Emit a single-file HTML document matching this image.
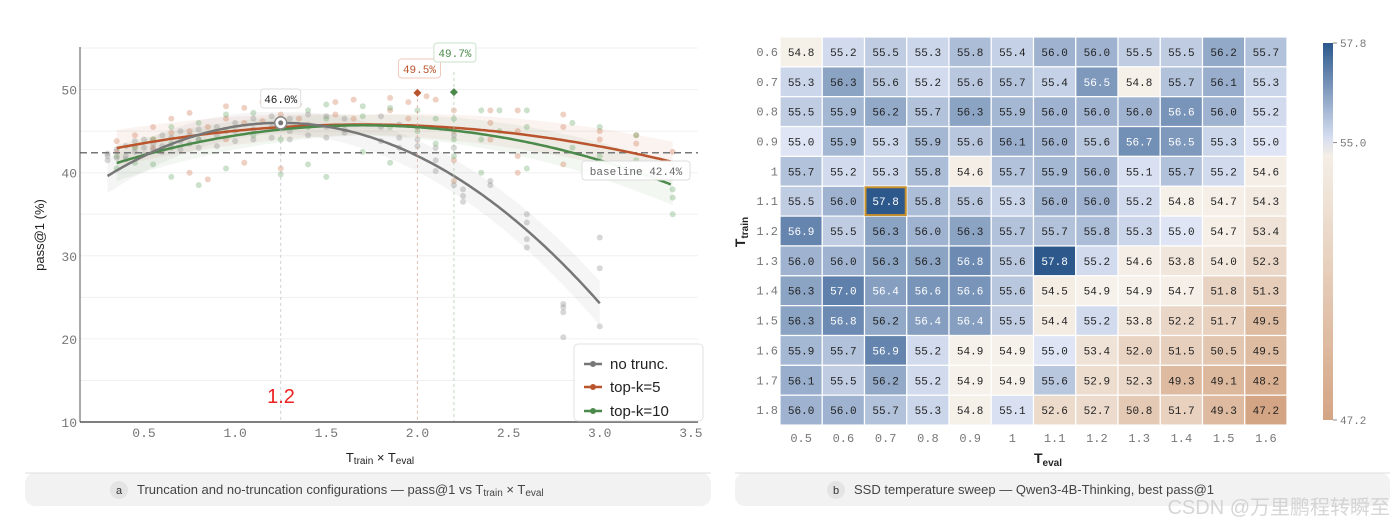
<!DOCTYPE html>
<html><head><meta charset="utf-8"><style>
body{margin:0;background:#fff;width:1396px;height:527px;overflow:hidden;font-family:"Liberation Sans","Noto Sans CJK SC",sans-serif}
svg{position:absolute;left:0;top:0}
</style></head><body>
<svg id="s" width="1396" height="527" xmlns="http://www.w3.org/2000/svg"></svg>
<script>
// ---- Left chart data ----
const xTicks=[0.5,1.0,1.5,2.0,2.5,3.0,3.5];
const yTicks=[10,20,30,40,50];
const baseline=42.4;
const grayFit=[46.0,1.25,7.09,0.3,3.0];   // peak, xpeak, curvature, xmin, xmax
const orangeFit=[45.8,1.7,1.56,0.35,3.4];
const greenFit=[45.7,1.7,2.49,0.35,3.4];
const grayX=[0.3,0.3,0.3,0.35,0.35,0.4,0.4,0.4,0.45,0.45,0.5,0.5,0.5,0.55,0.55,0.6,0.6,0.6,0.65,0.65,0.7,0.7,0.7,0.75,0.75,0.8,0.8,0.8,0.9,0.9,0.9,1.0,1.0,1.0,1.1,1.1,1.1,1.2,1.2,1.2,1.3,1.3,1.3,1.4,1.4,1.4,1.5,1.5,1.5,1.6,1.6,1.6,1.8,1.8,1.8,1.9,1.9,1.9,2.0,2.0,2.0,2.1,2.1,2.1,2.2,2.2,2.2,2.25,2.25,2.25,2.4,2.4,2.6,2.6,2.6,2.6,2.8,2.8,2.8,2.8,3.0,3.0,3.0];
const grayY=[42.3,41.5,42.0,42.8,41.8,43.2,42.0,41.6,43.8,42.5,44.0,43.0,42.2,43.5,42.8,44.5,43.2,42.5,44.2,43.0,45.0,43.8,42.8,44.5,43.5,45.2,44.0,43.0,45.5,44.5,43.2,46.0,45.0,43.8,46.5,45.2,44.0,46.8,45.5,44.2,46.5,45.0,44.0,47.0,45.8,44.5,46.8,45.5,44.2,46.5,45.2,44.8,46.8,45.5,43.8,45.8,44.2,43.0,45.5,44.0,43.2,43.0,41.5,40.2,44.5,43.0,38.5,38.0,37.2,36.5,39.0,38.5,35.0,34.0,32.0,31.0,24.2,23.8,23.2,20.2,32.2,28.5,21.5];
const orangeX=[0.35,0.35,0.45,0.45,0.55,0.55,0.55,0.65,0.65,0.75,0.75,0.75,0.85,0.85,0.95,0.95,0.95,1.05,1.05,1.05,1.15,1.15,1.25,1.25,1.25,1.35,1.35,1.55,1.55,1.65,1.65,1.85,1.85,1.95,1.95,2.05,2.1,2.2,2.2,2.2,2.2,2.4,2.4,2.4,2.55,2.55,2.55,2.55,2.8,2.8,2.8,3.0,3.0,3.2,3.2,3.4,3.4];
const orangeY=[43.8,42.5,44.5,43.2,45.5,44.0,43.0,46.5,44.8,47.2,45.0,40.0,45.5,39.2,48.0,46.5,44.0,47.8,46.0,41.2,48.5,46.2,47.0,45.5,40.5,48.2,46.5,48.5,47.0,48.8,46.5,49.0,47.5,48.5,46.5,49.2,48.8,47.5,45.0,41.5,39.0,47.5,46.0,44.0,47.5,45.0,42.0,40.0,47.0,45.5,41.0,45.0,44.0,44.5,43.5,42.5,41.0];
const greenX=[0.35,0.35,0.45,0.45,0.55,0.55,0.65,0.65,0.65,0.8,0.8,0.8,0.95,0.95,0.95,1.1,1.1,1.25,1.25,1.25,1.4,1.4,1.4,1.5,1.5,1.5,1.7,1.7,1.7,1.85,1.85,1.85,2.0,2.0,2.1,2.1,2.2,2.2,2.2,2.35,2.35,2.35,2.45,2.45,2.6,2.6,2.6,2.85,2.85,3.0,3.0,3.2,3.2,3.2,3.4,3.4,3.4,3.4];
const greenY=[42.0,40.5,43.0,41.2,44.0,41.0,45.5,43.5,39.5,46.0,44.0,38.5,47.0,45.0,40.5,47.2,44.5,46.5,44.0,39.8,47.5,45.5,41.0,48.2,46.5,39.5,48.0,46.8,42.5,47.8,45.5,41.2,47.5,45.0,46.5,43.5,46.5,44.0,42.0,47.5,44.0,40.0,47.5,45.0,47.5,45.5,40.5,46.0,43.0,45.5,42.0,44.5,41.5,40.0,39.5,38.0,37.0,35.0];
const bestOrange=[2.0,49.6,"49.5%"];
const bestGreen=[2.2,49.7,"49.7%"];
const bestGray=[1.25,46.0,"46.0%"];

// ---- Heatmap data ----
const evalLabels=["0.5","0.6","0.7","0.8","0.9","1","1.1","1.2","1.3","1.4","1.5","1.6"];
const trainLabels=["0.6","0.7","0.8","0.9","1","1.1","1.2","1.3","1.4","1.5","1.6","1.7","1.8"];
const heat=[
[54.8,55.2,55.5,55.3,55.8,55.4,56.0,56.0,55.5,55.5,56.2,55.7],
[55.3,56.3,55.6,55.2,55.6,55.7,55.4,56.5,54.8,55.7,56.1,55.3],
[55.5,55.9,56.2,55.7,56.3,55.9,56.0,56.0,56.0,56.6,56.0,55.2],
[55.0,55.9,55.3,55.9,55.6,56.1,56.0,55.6,56.7,56.5,55.3,55.0],
[55.7,55.2,55.3,55.8,54.6,55.7,55.9,56.0,55.1,55.7,55.2,54.6],
[55.5,56.0,57.8,55.8,55.6,55.3,56.0,56.0,55.2,54.8,54.7,54.3],
[56.9,55.5,56.3,56.0,56.3,55.7,55.7,55.8,55.3,55.0,54.7,53.4],
[56.0,56.0,56.3,56.3,56.8,55.6,57.8,55.2,54.6,53.8,54.0,52.3],
[56.3,57.0,56.4,56.6,56.6,55.6,54.5,54.9,54.9,54.7,51.8,51.3],
[56.3,56.8,56.2,56.4,56.4,55.5,54.4,55.2,53.8,52.2,51.7,49.5],
[55.9,55.7,56.9,55.2,54.9,54.9,55.0,53.4,52.0,51.5,50.5,49.5],
[56.1,55.5,56.2,55.2,54.9,54.9,55.6,52.9,52.3,49.3,49.1,48.2],
[56.0,56.0,55.7,55.3,54.8,55.1,52.6,52.7,50.8,51.7,49.3,47.2]];
const cbTicks=[57.8,55.0,47.2];
const highlight=[5,2];

const S=document.getElementById('s');const NS="http://www.w3.org/2000/svg";
function mk(tag,at,parent){const e=document.createElementNS(NS,tag);for(const k in at)e.setAttribute(k,at[k]);(parent||S).appendChild(e);return e;}
function tx(x,y,str,at){const e=mk('text',Object.assign({x:x,y:y},at||{}));e.textContent=str;return e;}
const MONO='"Liberation Mono","DejaVu Sans Mono",monospace';

// scales
const X=v=>144+(v-0.5)*182.3;
const Y=v=>422-(v-10)*8.31;

// caption panels
let g=mk('rect',{x:25,y:473,width:686,height:33,rx:10,fill:'#f2f2f2'});

g=mk('rect',{x:735,y:473,width:655,height:33,rx:10,fill:'#f2f2f2'});

mk('line',{x1:25,y1:473,x2:711,y2:473,stroke:'#ddd'});
mk('line',{x1:735,y1:473,x2:1390,y2:473,stroke:'#ddd'});

// gridlines
for(let v=15;v<=55;v+=5){const l=mk('line',{x1:80,x2:698,y1:Y(v),y2:Y(v),stroke:'#f0f0f0'});
}

function fit(f,x){return f[0]-f[2]*(x-f[1])*(x-f[1]);}
function band(f,col,w){let up=[],dn=[];for(let x=f[3];x<=f[4]+1e-9;x+=0.05){const y=fit(f,x);const ww=w*(1+Math.abs(x-f[1])*0.6);up.push(X(x)+','+Y(y+ww));dn.unshift(X(x)+','+Y(y-ww));}
const p=mk('polygon',{points:up.concat(dn).join(' '),fill:col,opacity:0.07});}
band(orangeFit,'#c0502a',1.2);band(greenFit,'#4a8a4a',1.2);band(grayFit,'#777',1.3);

function pts(xs,ys,col,name){for(let i=0;i<xs.length;i++){const c=mk('circle',{cx:X(xs[i]),cy:Y(ys[i]),r:3,fill:col,opacity:0.35});
}}
pts(orangeX,orangeY,'#d07a55','scatter-point-topk5');
pts(greenX,greenY,'#6aa86a','scatter-point-topk10');
pts(grayX,grayY,'#8c8c8c','scatter-point-notrunc');

// baseline
let b=mk('line',{x1:80,x2:698,y1:Y(baseline),y2:Y(baseline),stroke:'#777','stroke-width':1.5,'stroke-dasharray':'7,4'});


function curve(f,col,name){let d='';for(let x=f[3];x<=f[4]+1e-9;x+=0.02){d+=(d?'L':'M')+X(x).toFixed(1)+','+Y(fit(f,x)).toFixed(1);}
const p=mk('path',{d:d,fill:'none',stroke:col,'stroke-width':2.5});}
curve(orangeFit,'#b9542c','fit-curve-topk5');curve(greenFit,'#4b8a4b','fit-curve-topk10');curve(grayFit,'#777','fit-curve-notrunc');

// vertical markers
function vline(v,top,col,name){const l=mk('line',{x1:X(v),x2:X(v),y1:top,y2:422,stroke:col,'stroke-dasharray':'3,3','stroke-width':1,opacity:0.7});}
vline(bestGray[0],Y(bestGray[1]),'#bbb','peak-line-notrunc');
vline(bestOrange[0],Y(bestOrange[1]),'#e0a090','peak-line-topk5');
vline(bestGreen[0],72,'#a8c8a8','peak-line-topk10');
function diamond(v,y,col,name){const cx=X(v),cy=Y(y);const p=mk('polygon',{points:`${cx},${cy-4} ${cx+4},${cy} ${cx},${cy+4} ${cx-4},${cy}`,fill:col});}
diamond(bestOrange[0],bestOrange[1],'#b9542c','best-marker-topk5');
diamond(bestGreen[0],bestGreen[1],'#4b8a4b','best-marker-topk10');
let pk=mk('circle',{cx:X(bestGray[0]),cy:Y(bestGray[1]),r:6,fill:'#fff',stroke:'#888','stroke-width':1.5});
mk('circle',{cx:X(bestGray[0]),cy:Y(bestGray[1]),r:2.5,fill:'#777'});
function lab(x,y,w,str,col,border,name){const r=mk('rect',{x:x-w/2,y:y-10,width:w,height:19,rx:3,fill:'#fff',stroke:border,opacity:0.95});
tx(x,y+4,str,{'text-anchor':'middle','font-family':MONO,'font-size':11,fill:col});}
lab(X(bestGray[0]),99,40,bestGray[2],'#222','#ddd','peak-label-notrunc');
lab(X(bestOrange[0])+2,69,42,bestOrange[2],'#b9542c','#f0c8b8','best-label-topk5');
lab(X(bestGreen[0])+1,53,42,bestGreen[2],'#4b8a4b','#c8e0c8','best-label-topk10');
lab(636,171,108,'baseline 42.4%','#666','#ddd','baseline-label');

// axes
mk('line',{x1:80,x2:80,y1:47,y2:422,stroke:'#555','stroke-width':1});
mk('line',{x1:80,x2:698,y1:422,y2:422,stroke:'#555','stroke-width':1.5});
xTicks.forEach(v=>{const t=tx(X(v),437,v.toFixed(1),{'text-anchor':'middle','font-family':MONO,'font-size':13,fill:'#777'});});
yTicks.forEach(v=>{const t=tx(77,Y(v)+5,String(v),{'text-anchor':'end','font-family':MONO,'font-size':13,fill:'#777'});});
let yt=tx(0,0,'pass@1 (%)',{'font-size':13,fill:'#222','text-anchor':'middle',transform:'translate(44,235) rotate(-90)'});
let xt=mk('text',{x:380,y:462,'font-size':13,fill:'#222','text-anchor':'middle'});xt.innerHTML='T<tspan font-size="10" dy="2">train</tspan><tspan dy="-2"> × T</tspan><tspan font-size="10" dy="2">eval</tspan>';

let red=tx(281,403,'1.2',{'text-anchor':'middle','font-size':20,fill:'#ee2222'});

// legend
let lg=mk('rect',{x:574,y:344,width:129,height:77,rx:4,fill:'#fff',stroke:'#e0e0e0',opacity:0.95});
[['no trunc.','#777',364],['top-k=5','#b9542c',387],['top-k=10','#4b8a4b',411]].forEach(e=>{
mk('line',{x1:584,x2:602,y1:e[2],y2:e[2],stroke:e[1],'stroke-width':2.5});mk('circle',{cx:593,cy:e[2],r:3,fill:e[1]});
const t=tx(610,e[2]+5,e[0],{'font-size':15,fill:'#222'});});

// caption a
mk('circle',{cx:119,cy:490,r:9,fill:'#e4e4e4'});tx(119,494,'a',{'text-anchor':'middle','font-size':11,fill:'#333'});
let ca=mk('text',{x:137,y:494,'font-size':13,fill:'#444'});ca.innerHTML='Truncation and no-truncation configurations — pass@1 vs T<tspan font-size="10" dy="2">train</tspan><tspan dy="-2"> × T</tspan><tspan font-size="10" dy="2">eval</tspan>';


// ---- Heatmap ----
const HX0=780,HY0=37,CW=42.25,CH=29.85;
const lerp=(a,b,t)=>a.map((v,i)=>Math.round(v+(b[i]-v)*t));
const hi=[223,229,245],hiD=[44,88,140],lo=[246,242,235],loD=[212,165,132];
function col(v){let c;if(v>=55){c=lerp(hi,hiD,Math.min(1,(v-55)/2.8));}else{c=lerp(lo,loD,Math.min(1,(55-v)/7.8));}return `rgb(${c})`;}
heat.forEach((row,r)=>row.forEach((v,c)=>{
const rc=mk('rect',{x:HX0+c*CW,y:HY0+r*CH,width:CW,height:CH,fill:col(v),stroke:'#fff','stroke-width':1.2});

tx(HX0+c*CW+CW/2,HY0+r*CH+CH/2+4,v.toFixed(1),{'text-anchor':'middle','font-family':MONO,'font-size':11,fill:v>=56.4?'#fff':'#222'});
}));
let hl=mk('rect',{x:HX0+highlight[1]*CW+1,y:HY0+highlight[0]*CH+1,width:CW-2,height:CH-2,fill:'none',stroke:'#c8902c','stroke-width':2});

evalLabels.forEach((s,i)=>{const t=tx(HX0+i*CW+CW/2,442,s,{'text-anchor':'middle','font-family':MONO,'font-size':12,fill:'#777'});});
trainLabels.forEach((s,i)=>{const t=tx(778,HY0+i*CH+CH/2+4,s,{'text-anchor':'end','font-family':MONO,'font-size':12,fill:'#777'});});
let ht=mk('text',{x:1048,y:463,'font-size':14,'font-weight':'bold',fill:'#222','text-anchor':'middle'});ht.innerHTML='T<tspan font-size="10" dy="3">eval</tspan>';

let vt=mk('text',{'font-size':14,'font-weight':'bold',fill:'#222','text-anchor':'middle',transform:'translate(745,232) rotate(-90)'});vt.innerHTML='T<tspan font-size="10" dy="3">train</tspan>';


// colorbar
const defs=mk('defs',{});const gr=mk('linearGradient',{id:'cb',x1:0,y1:0,x2:0,y2:1},defs);
const CBT=43,CBB=420,cmax=cbTicks[0],cmin=cbTicks[2];
for(let i=0;i<=20;i++){const v=cmax-(cmax-cmin)*i/20;mk('stop',{offset:(i/20),'stop-color':col(v)},gr);}
let cb=mk('rect',{x:1323,y:CBT,width:10,height:CBB-CBT,fill:'url(#cb)'});
cbTicks.forEach(v=>{const y=CBT+(cmax-v)/(cmax-cmin)*(CBB-CBT);mk('line',{x1:1333,x2:1337,y1:y,y2:y,stroke:'#888'});
const t=tx(1340,y+4,v.toFixed(1),{'font-family':MONO,'font-size':11,fill:'#777'});});

// caption b
mk('circle',{cx:836,cy:490,r:9,fill:'#e4e4e4'});tx(836,494,'b',{'text-anchor':'middle','font-size':11,fill:'#333'});
let cbp=tx(854,494,'SSD temperature sweep — Qwen3-4B-Thinking, best pass@1',{'font-size':13,fill:'#444'});

let wm=tx(1390,514,'CSDN @万里鹏程转瞬至',{'text-anchor':'end','font-size':20,fill:'#ccc',opacity:0.8,'font-family':'"Liberation Sans","Noto Sans CJK SC",sans-serif'});

</script>
</body></html>
